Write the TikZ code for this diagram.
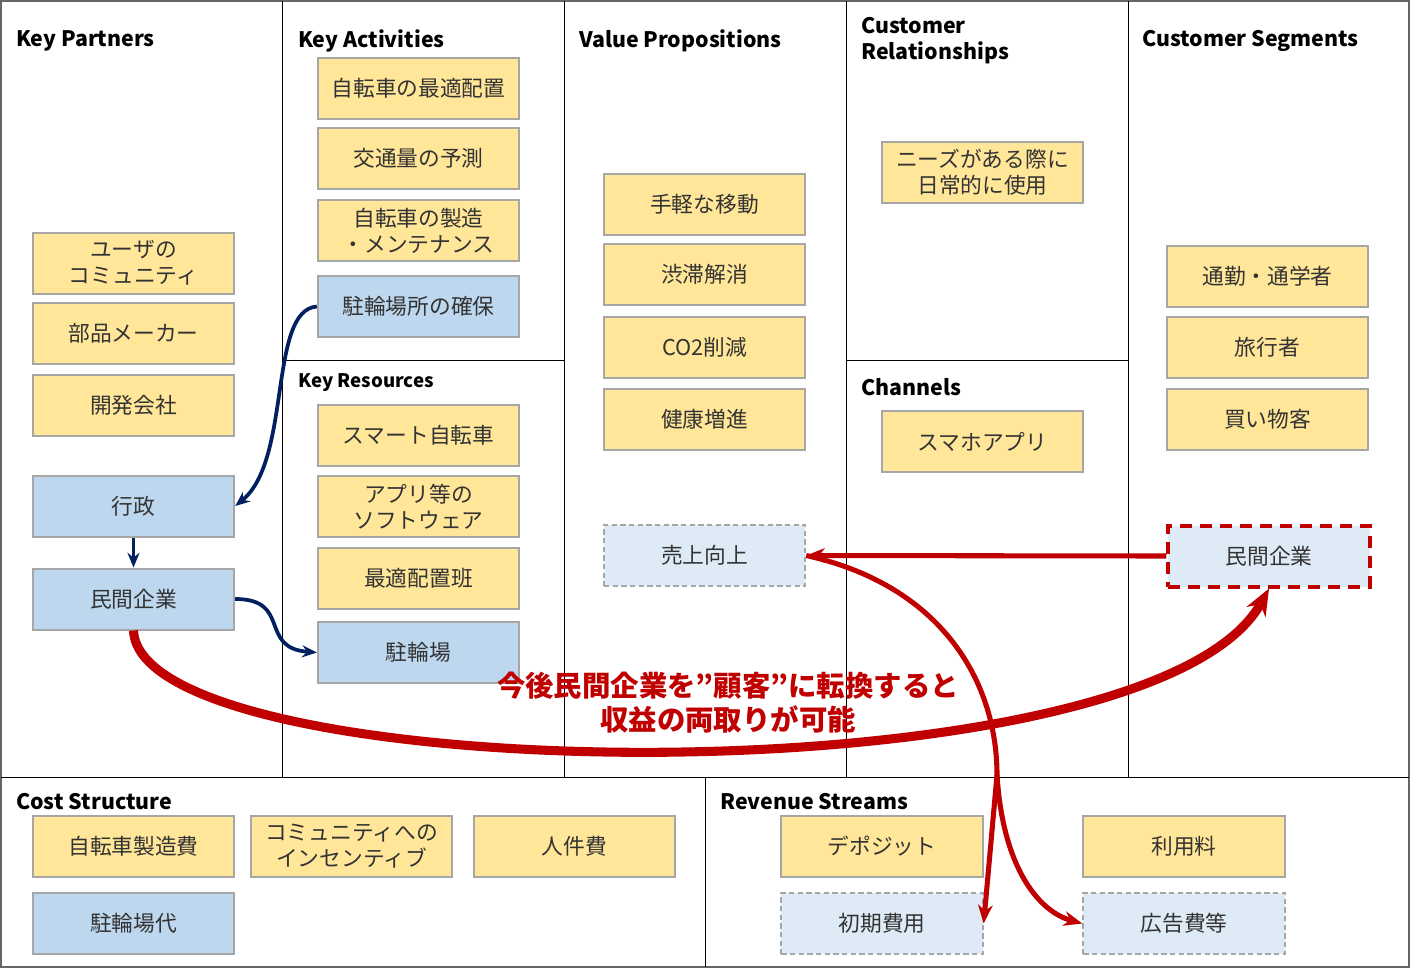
\documentclass[tikz,border=0pt]{standalone}
\usepackage{fontspec}
\setmainfont{Noto Sans CJK JP}
\usetikzlibrary{arrows.meta}

\definecolor{ugold}{HTML}{FFE699}
\definecolor{ublue}{HTML}{BDD7EE}
\definecolor{upale}{HTML}{DEEBF7}
\definecolor{ugray}{HTML}{A6A6A6}
\definecolor{unavy}{HTML}{002060}
\definecolor{ured}{HTML}{C00000}

\begin{document}
\begin{tikzpicture}[x=0.75pt,y=-0.75pt]

\tikzstyle{ynode}=[rectangle,inner sep=0mm,minimum height=45.75pt,minimum width=151pt,draw=ugray,line width=1.5pt,fill=ugold,align=center,text=black!80,font=\fontsize{16.3}{19.5}\selectfont]
\tikzstyle{bnode}=[ynode,fill=ublue]
\tikzstyle{dnode}=[ynode,fill=upale,dash pattern=on 4pt off 2.5pt]
\tikzstyle{rnode}=[ynode,fill=upale,draw=ured,line width=3pt,dash pattern=on 9pt off 6pt]
\tikzstyle{hnode}=[anchor=west,inner sep=0mm,align=left,font=\fontsize{16}{19.5}\selectfont\bfseries]

\useasboundingbox (0,0) rectangle (1410,968);

\begin{scope}[]

% canvas grid
\draw[line width=1.2pt,black!60] (1,1) rectangle (1409,967);
\draw[line width=0.75pt] (282,1)--(282,777) (564,1)--(564,777) (846,1)--(846,777) (1128,1)--(1128,777);
\draw[line width=0.75pt] (1,777)--(1409,777) (705,777)--(705,967);
\draw[line width=0.75pt] (282,360)--(564,360) (846,360)--(1128,360);

% headers
\node [hnode] (hkp) at (16,41){Key Partners};
\node [hnode] (hka) at (298,41){Key Activities};
\node [hnode,font=\fontsize{14}{17}\selectfont\bfseries] (hkr) at (298,383){Key Resources};
\node [hnode] (hvp) at (579,41){Value Propositions};
\node [hnode] (hcr) at (861,41){Customer\\Relationships};
\node [hnode] (hch) at (861,387){Channels};
\node [hnode] (hcs) at (1142,41){Customer Segments};
\node [hnode] (hcost) at (16,802){Cost Structure};
\node [hnode] (hrev) at (720,802){Revenue Streams};

% key partners
\node [ynode] (kp1) at (133.5,263){ユーザの\\コミュニティ};
\node [ynode] (kp2) at (133.5,333.5){部品メーカー};
\node [ynode] (kp3) at (133.5,405.5){開発会社};
\node [bnode] (kp4) at (133.5,506){行政};
\node [bnode] (kp5) at (133.5,599){民間企業};

% key activities / resources
\node [ynode] (ka1) at (418.5,88.5){自転車の最適配置};
\node [ynode] (ka2) at (418.5,158.5){交通量の予測};
\node [ynode] (ka3) at (418.5,230.5){自転車の製造\\・メンテナンス};
\node [bnode] (ka4) at (418.5,306.5){駐輪場所の確保};
\node [ynode] (kr1) at (418.5,435.5){スマート自転車};
\node [ynode] (kr2) at (418.5,506.5){アプリ等の\\ソフトウェア};
\node [ynode] (kr3) at (418.5,578.5){最適配置班};
\node [bnode] (kr4) at (418.5,652.5){駐輪場};

% value propositions
\node [ynode] (vp1) at (704.5,204.5){手軽な移動};
\node [ynode] (vp2) at (704.5,274.5){渋滞解消};
\node [ynode] (vp3) at (704.5,347){CO2削減};
\node [ynode] (vp4) at (704.5,419.5){健康増進};
\node [dnode] (vp5) at (704.5,555.5){売上向上};

% relationships / channels
\node [ynode] (cr1) at (982.5,172.5){ニーズがある際に\\日常的に使用};
\node [ynode] (ch1) at (982.5,441.5){スマホアプリ};

% customer segments
\node [ynode] (cs1) at (1267.5,276.5){通勤・通学者};
\node [ynode] (cs2) at (1267.5,347){旅行者};
\node [ynode] (cs3) at (1267.5,419.5){買い物客};
\node [rnode] (cs4) at (1269,556){民間企業};

% cost structure
\node [ynode] (co1) at (133.5,846.5){自転車製造費};
\node [ynode] (co2) at (351.5,846.5){コミュニティへの\\インセンティブ};
\node [ynode] (co3) at (574.5,846.5){人件費};
\node [bnode] (co4) at (133.5,923.5){駐輪場代};

% revenue streams
\node [ynode] (rs1) at (882,846.5){デポジット};
\node [ynode] (rs2) at (1184,846.5){利用料};
\node [dnode] (rs3) at (882,923.5){初期費用};
\node [dnode] (rs4) at (1184,923.5){広告費等};

% navy arrows
\draw[-{Stealth[length=11pt,width=9pt]},line width=2.8pt,unavy] (ka4.west) .. controls (268,310) and (292,460) .. (kp4.east);
\draw[-{Stealth[length=11pt,width=9pt]},line width=2.8pt,unavy] (kp4.south) -- (kp5.north);
\draw[-{Stealth[length=11pt,width=9pt]},line width=2.8pt,unavy] (kp5.east) .. controls (292,599) and (258,648) .. (kr4.west);

% red arrows
\coordinate (split) at (997,775);
\draw[-{Stealth[length=14pt,width=11pt]},line width=3.8pt,ured] (cs4.west) -- (vp5.east);
\draw[line width=3.8pt,ured] (vp5.east) .. controls (940,585) and (997,680) .. (split);
\draw[-{Stealth[length=14pt,width=11pt]},line width=3.8pt,ured] (split) -- (rs3.east);
\draw[-{Stealth[length=14pt,width=11pt]},line width=3.8pt,ured] (split) .. controls (1003,870) and (1040,912) .. (rs4.west);
\draw[-{Stealth[length=20pt,width=16pt]},line width=6.8pt,ured] (kp5.south) .. controls (140,790) and (1150,805) .. (cs4.south);

\node [align=center,text=ured,font=\fontsize{21.3}{25.5}\selectfont\bfseries] (memo) at (728,703){今後民間企業を”顧客”に転換すると\\収益の両取りが可能};

\end{scope}
\end{tikzpicture}
\end{document}
